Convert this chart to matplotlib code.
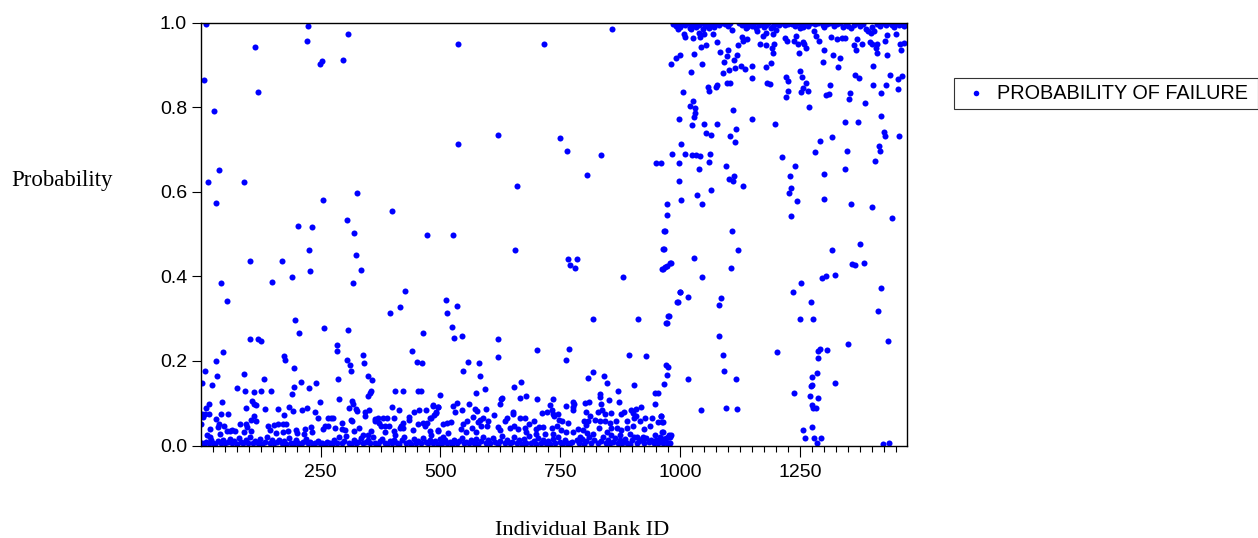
import matplotlib.pyplot as plt
from matplotlib.lines import Line2D
from matplotlib.patches import Rectangle

# (bank id, probability), split by region
upper_left = [(11,.996),(224,.991),(307,.973),(222,.957),(113,.943),(296,.912),(254,.909),(248,.903),(8,.863),(119,.836),
    (28,.791),(38,.651),(15,.622),(90,.623),(327,.596),(32,.574),(255,.580),(398,.554),(306,.534),(203,.519),(233,.516),
    (319,.502),(472,.498),(526,.498),(536,.950),(536,.712),(620,.733),(660,.614),(716,.948),(748,.726),(764,.696),(805,.640),(835,.687),(858,.985),(950,.667)]

middle_left = [(227,.463),(323,.450),(103,.437),(170,.435),(334,.414),(229,.412),(190,.398),(42,.383),(149,.386),(317,.385),
    (426,.366),(56,.341),(415,.327),(395,.313),(197,.297),(258,.277),(308,.274),(206,.266),(463,.267),(104,.251),(120,.251),
    (125,.247),(285,.238),(284,.224),(440,.224),(46,.222),(173,.211),(176,.203),(33,.199),(305,.202),(338,.214),(340,.194),
    (311,.191),(450,.198),(461,.195),(9,.177),(314,.177),(194,.184),(35,.165),(91,.168),(348,.165),(132,.157),(287,.157),
    (358,.156),(3,.148),(24,.143),(209,.149),(240,.147),(76,.135),(194,.138),(225,.136),(93,.128),(111,.126),(127,.129),
    (147,.128),(190,.122),(356,.130),(353,.124),(349,.117),(406,.130),(421,.129),(454,.128),(459,.128),(498,.120)]

middle_centre = [(655,.461),(765,.440),(785,.440),(769,.426),(781,.419),(968,.506),(965,.464),(980,.432),(971,.424),(963,.418),
    (881,.399),(511,.344),(998,.362),(994,.340),(534,.330),(514,.314),(817,.299),(911,.298),(976,.307),(971,.290),(525,.281),
    (528,.255),(544,.260),(619,.251),(701,.226),(768,.229),(620,.210),(762,.202),(892,.215),(928,.212),(558,.198),(580,.195),
    (547,.177),(583,.164),(969,.191),(975,.186),(972,.167),(966,.145),(817,.173),(808,.160),(840,.165),(846,.148),(904,.142),
    (654,.139),(667,.151),(592,.133),(574,.125),(665,.113),(679,.117),(626,.110),(629,.113),(702,.110),(734,.110),(869,.128),
    (946,.125),(954,.125),(832,.121),(833,.115),(852,.108),(872,.104),(776,.104),(778,.099)]

low_left = [(44,.102),(17,.099),(108,.105),(111,.099),(115,.095),(289,.109),(249,.102),(316,.106),(318,.099),(185,.091),
    (309,.089),(323,.087),(326,.082),(12,.088),(94,.088),(135,.087),(161,.087),(193,.082),(212,.083),(221,.088),(238,.080),
    (351,.084),(343,.079),(342,.070),(399,.092),(413,.084),(445,.080),(456,.084),(469,.085),(485,.093),(495,.091),(490,.076),
    (4,.075),(9,.075),(18,.075),(43,.074),(58,.074),(174,.072),(6,.067),(112,.069),(106,.060),(115,.057),(33,.063),(244,.066),
    (265,.065),(271,.065),(276,.064),(369,.066),(363,.063),(381,.064),(389,.064),(403,.065),(435,.068),(435,.061),(479,.065),
    (313,.061),(315,.057),(1,.052),(38,.051),(37,.043),(49,.046),(83,.051),(94,.051),(97,.043),(140,.046),(153,.049),(162,.052),
    (171,.051),(179,.051),(294,.054),(259,.046),(266,.045),(256,.039),(281,.042),(294,.039),(300,.037),(363,.057),(372,.053),
    (375,.046),(385,.047),(393,.047),(422,.054),(417,.047),(415,.041),(422,.041),(454,.051),(464,.053),(472,.054),(467,.045),
    (19,.039),(65,.037),(56,.034),(144,.037),(199,.037),(217,.039),(230,.043),(233,.032),(216,.028),(200,.029),(183,.034),
    (172,.031),(157,.029),(106,.035),(90,.031),(72,.034),(61,.035),(40,.028),(14,.025),(19,.020),(330,.042),(320,.035),(339,.025),
    (356,.035),(349,.025),(384,.033),(403,.035),(443,.037),(478,.035),(495,.035),(405,.025),(481,.025)]

low_centre = [(761,.093),(776,.092),(776,.084),(485,.095),(494,.091),(490,.079),(486,.072),(481,.065),(527,.093),(535,.101),
    (560,.097),(531,.079),(545,.083),(572,.087),(576,.082),(594,.086),(611,.072),(623,.097),(651,.080),(651,.074),(666,.066),
    (677,.065),(694,.058),(685,.051),(711,.077),(721,.080),(728,.095),(733,.084),(735,.074),(744,.074),(736,.069),(747,.061),
    (753,.057),(765,.054),(801,.100),(810,.102),(803,.080),(835,.099),(828,.079),(836,.084),(843,.075),(855,.077),(877,.075),
    (883,.080),(897,.084),(908,.087),(918,.091),(901,.078),(908,.070),(947,.097),(926,.066),(940,.065),(960,.070),(903,.065),
    (916,.058),(936,.047),(953,.055),(963,.055),(888,.058),(865,.057),(812,.069),(799,.058),(808,.059),(822,.061),(832,.059),
    (842,.057),(853,.053),(856,.041),(804,.049),(831,.041),(923,.038),(981,.026),(978,.021),(978,.006),(506,.051),(513,.053),
    (522,.055),(495,.037),(515,.029),(506,.021),(542,.039),(547,.050),(556,.058),(567,.067),(582,.061),(589,.065),(579,.056),
    (599,.057),(565,.041),(585,.045),(575,.033),(553,.033),(596,.045),(620,.043),(634,.057),(639,.066),(625,.037),(644,.041),
    (653,.047),(662,.039),(676,.041),(679,.033),(699,.039),(706,.043),(714,.043),(717,.028),(733,.041),(742,.045),(752,.037),
    (761,.032),(735,.028),(700,.028),(787,.039),(776,.033),(797,.037),(818,.028),(790,.021),(806,.029),(846,.033),(867,.041),
    (877,.037),(888,.041),(901,.045),(874,.025),(894,.028),(856,.025),(910,.021),(922,.021),(947,.025),(964,.033),(957,.021),
    (961,.032),(977,.025),(975,.021),(976,.006),(964,.015),(959,.070),(962,.055)]

bottom_band = [(3,.006),(8,.004),(12,.008),(17,.005),(22,.012),(27,.007),(31,.004),(36,.010),(42,.006),(47,.014),(52,.005),(57,.009),
    (62,.016),(66,.006),(70,.011),(75,.004),(80,.018),(84,.008),(89,.005),(94,.013),(99,.007),(104,.020),(109,.005),(114,.010),
    (119,.006),(124,.015),(129,.004),(134,.009),(139,.019),(144,.006),(149,.012),(154,.005),(159,.008),(164,.014),(169,.005),
    (174,.010),(179,.004),(184,.017),(189,.007),(194,.005),(199,.012),(204,.006),(209,.004),(214,.009),(219,.015),(224,.005),
    (229,.008),(234,.004),(239,.006),(244,.011),(249,.005),(254,.007),(259,.004),(264,.009),(269,.006),(274,.004),(279,.014),
    (284,.006),(289,.019),(294,.005),(299,.010),(304,.023),(309,.006),(314,.004),(319,.013),(324,.006),(329,.009),(334,.017),
    (339,.005),(344,.008),(349,.012),(354,.005),(359,.019),(364,.007),(369,.004),(374,.011),(379,.016),(384,.006),(389,.004),
    (394,.010),(399,.005),(404,.014),(409,.007),(414,.004),(419,.012),(424,.020),(429,.006),(434,.009),(439,.004),(444,.015),
    (449,.006),(454,.011),(459,.005),(464,.017),(469,.008),(474,.005),(479,.013),(484,.006),(489,.010),(494,.004),(499,.016),
    (504,.006),(509,.012),(514,.005),(519,.008),(524,.004),(529,.014),(534,.006),(539,.010),(544,.018),(549,.005),(554,.009),
    (559,.005),(564,.012),(569,.007),(574,.016),(579,.004),(584,.010),(589,.020),(594,.006),(599,.013),(604,.005),(609,.018),
    (614,.008),(619,.004),(624,.011),(629,.022),(634,.006),(639,.014),(644,.005),(649,.009),(654,.020),(659,.006),(664,.012),
    (669,.004),(674,.016),(679,.007),(684,.022),(689,.005),(694,.011),(699,.004),(704,.018),(709,.007),(714,.013),(719,.005),
    (724,.010),(729,.004),(734,.015),(739,.006),(744,.021),(749,.008),(754,.004),(759,.012),(764,.006),(769,.005),(774,.009),
    (784,.012),(789,.006),(794,.016),(799,.004),(804,.010),(809,.020),(814,.006),(819,.013),(829,.005),(834,.011),(839,.021),
    (844,.007),(849,.014),(854,.005),(859,.009),(864,.018),(869,.006),(874,.012),(879,.005),(884,.016),(889,.007),(894,.004),
    (899,.012),(904,.020),(909,.006),(914,.010),(919,.015),(924,.005),(929,.017),(934,.008),(939,.012),(944,.005),(949,.014),
    (954,.007),(959,.010),(964,.005),(969,.018),(972,.006)]

upper_right = [(1002,.580),(1044,.571),(1035,.593),(1063,.603),(997,.626),(1038,.654),(997,.668),(1060,.671),(1094,.660),(1130,.614),
    (1110,.625),(1112,.637),(1101,.630),(983,.690),(1009,.690),(1025,.687),(1032,.687),(1040,.685),(1062,.689),(1001,.712),(1053,.738),
    (1064,.734),(1104,.731),(1113,.717),(1115,.748),(996,.773),(1024,.758),(1049,.759),(1077,.760),(1029,.776),(1031,.787),(1031,.797),
    (1020,.803),(1026,.814),(1005,.835),(1058,.847),(1060,.838),(1074,.847),(1077,.852),(1097,.856),(1104,.856),(1109,.792),(1149,.772),
    (1196,.760),(1148,.868),(1180,.857),(1186,.854),(1088,.880),(1102,.888),(1114,.892),(1127,.898),(1134,.891),(1149,.896),(1178,.895),
    (1188,.904),(1021,.883),(981,.903),(990,.917),(1000,.924),(1028,.926),(1045,.903),(1091,.907),(1111,.911),(1097,.920),(1099,.935),
    (1117,.923),(1083,.931),(1042,.942),(1053,.946),(1076,.955),(1119,.947),(1128,.965),(1131,.957),(1138,.961),(1165,.950),(1179,.946),
    (1195,.950),(1190,.939),(1192,.927),(1008,.973),(1010,.966),(1026,.964),(1039,.975),(1040,.965),(1049,.973),(1067,.972),(994,.985),
    (1022,.985),(1108,.983),(1136,.986),(1160,.980),(1171,.968),(1178,.975),(1192,.973),(1200,.983),(1217,.963),(1222,.956),(1236,.956),
    (1240,.968),(1245,.950),(1255,.954),(1258,.949),(1262,.939),(1247,.927),(1278,.980),(1282,.968),(1289,.957),(1298,.935),(1297,.907),
    (1317,.923),(1333,.916),(1329,.894),(1313,.966),(1327,.961),(1336,.964),(1343,.964),(1367,.961),(1362,.947),(1365,.935),(1378,.949),
    (1394,.954),(1398,.950),(1410,.950),(1408,.939),(1409,.929),(1430,.924),(1426,.956),(1431,.970),(1449,.972),(1458,.949),(1466,.951),
    (1459,.935),(1401,.896),(1248,.885),(1254,.872),(1219,.871),(1223,.861),(1261,.857),(1256,.845),(1265,.838),(1252,.836),(1225,.838),
    (1219,.823),(1311,.852),(1310,.831),(1303,.828),(1267,.801),(1353,.834),(1352,.820),(1385,.810),(1364,.875),(1371,.869),(1401,.852),
    (1417,.833),(1428,.852),(1437,.876),(1453,.866),(1462,.873),(1453,.842),(1343,.764),(1369,.765),(1418,.778),(1424,.742),(1426,.731),
    (1456,.732),(1316,.730),(1291,.720),(1281,.693),(1346,.696),(1414,.708),(1415,.697),(1406,.673),(1211,.681),(1238,.661),(1229,.638),
    (1300,.641),(1342,.654),(1231,.609),(1226,.598),(1242,.577),(1299,.583),(1355,.572),(1399,.564),(1230,.543),(1440,.537),(966,.507),
    (959,.668),(1107,.507),(972,.544),(972,.572)]

lower_right = [(963,.464),(1120,.462),(1029,.444),(978,.432),(968,.423),(962,.417),(1105,.419),(1044,.399),(999,.363),(992,.340),(1016,.350),
    (1085,.348),(1080,.333),(974,.307),(969,.290),(1081,.259),(1089,.213),(1090,.176),(1201,.220),(1015,.157),(1116,.157),(1042,.085),
    (1095,.089),(1117,.086),(1315,.462),(1375,.476),(1357,.428),(1363,.426),(1383,.431),(1322,.404),(1304,.400),(1295,.396),(1251,.385),
    (1235,.362),(1272,.340),(1250,.298),(1277,.300),(1417,.372),(1412,.318),(1348,.240),(1432,.247),(1290,.228),(1287,.223),(1306,.225),
    (1286,.207),(1284,.172),(1275,.162),(1271,.140),(1273,.142),(1322,.147),(1237,.124),(1269,.117),(1287,.113),(1274,.095),(1276,.088),
    (1283,.088),(1274,.044),(1256,.036),(1260,.017),(1278,.017),(1292,.017),(1285,.006),(1421,.003),(1435,.007)]

top_band = [(985,.997),(990,.992),(995,.998),(1000,.990),(1005,.996),(1010,.993),(1015,.998),(1019,.988),(1024,.995),(1029,.998),(1033,.990),
    (1038,.993),(1043,.998),(1047,.984),(1052,.992),(1056,.997),(1060,.988),(1065,.995),(1070,.990),(1075,.997),(1080,.993),(1085,.998),
    (1092,.996),(1098,.992),(1104,.998),(1122,.998),(1128,.994),(1133,.998),(1138,.990),(1143,.996),(1148,.992),(1153,.998),(1158,.988),
    (1163,.995),(1168,.997),(1173,.990),(1178,.994),(1183,.998),(1188,.986),(1193,.992),(1198,.997),(1206,.995),(1212,.998),(1218,.993),
    (1224,.997),(1232,.996),(1238,.992),(1243,.998),(1248,.986),(1252,.994),(1256,.990),(1260,.997),(1265,.992),(1272,.998),(1280,.996),
    (1286,.998),(1296,.994),(1300,.989),(1305,.996),(1312,.998),(1320,.992),(1326,.997),(1332,.998),(1338,.990),(1344,.996),(1350,.992),
    (1356,.987),(1362,.995),(1368,.998),(1374,.992),(1380,.997),(1386,.985),(1390,.980),(1396,.976),(1400,.990),(1404,.980),(1410,.997),
    (1416,.992),(1422,.998),(1428,.994),(1434,.998),(1440,.995),(1445,.990),(1450,.998),(1455,.993),(1460,.997),(1465,.991),(1469,.996)]

regions = [upper_left, middle_left, middle_centre, low_left, low_centre, bottom_band, upper_right, lower_right, top_band]
bank_id = [p[0] for r in regions for p in r]
probability = [p[1] for r in regions for p in r]

x_major = [250, 500, 750, 1000, 1250]
x_minor = list(range(25, 1475, 25))
y_major = [0.0, 0.2, 0.4, 0.6, 0.8, 1.0]
W, H = 1258, 538

fig = plt.figure(figsize=(W / 100, H / 100), dpi=100)
ax = fig.add_axes([201 / W, 1 - 445.5 / H, 706.5 / W, 423 / H])
ax.scatter(bank_id, probability, s=19, color='#0000ff', linewidths=0)
ax.set_xlim(1, 1473)
ax.set_ylim(0, 1)

ax.set_xticks(x_major)
ax.set_xticks(x_minor, minor=True)
ax.set_yticks(y_major)
ax.set_yticklabels(['%.1f' % v for v in y_major], family='Liberation Sans', fontsize=14)
ax.set_xticklabels([str(v) for v in x_major], family='Liberation Sans', fontsize=14)
ax.tick_params(axis='x', which='major', length=8, width=0.8, pad=5)
ax.tick_params(axis='x', which='minor', length=4, width=0.8)
ax.tick_params(axis='y', which='major', length=6.5, width=0.8, pad=3.5)
for s in ax.spines.values():
    s.set_linewidth(1.0)

fig.text(62 / W, 1 - 181 / H, 'Probability', family='Liberation Serif', fontsize=16.5, ha='center', va='center')
fig.text(582 / W, 1 - 530.5 / H, 'Individual Bank ID', family='Liberation Serif', fontsize=16.1, ha='center', va='center')

# legend box runs to the right edge of the picture
fig.add_artist(Rectangle((954 / W, 1 - 109 / H), 303.5 / W, 31 / H, transform=fig.transFigure,
                         facecolor='white', edgecolor='#333333', linewidth=0.8))
fig.add_artist(Line2D([976 / W], [1 - 93 / H], transform=fig.transFigure, marker='o', markersize=4.0,
                      color='#0000ff', markeredgewidth=0, linestyle='none'))
fig.text(997 / W, 1 - 93.5 / H, 'PROBABILITY OF FAILURE', family='Liberation Sans', fontsize=14.35, ha='left', va='center')

fig.savefig('out.png', dpi=100)
